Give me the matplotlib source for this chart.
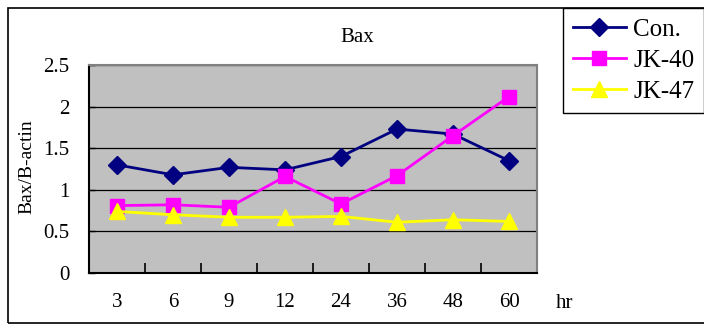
import numpy as np
import matplotlib.pyplot as plt
from matplotlib.patches import Rectangle

plt.rcParams['font.family'] = ['Liberation Serif', 'DejaVu Serif']

# time points (hr) and Bax/B-actin ratios
hours = ['3', '6', '9', '12', '24', '36', '48', '60']
con = [1.30, 1.18, 1.27, 1.24, 1.40, 1.73, 1.67, 1.35]
jk40 = [0.81, 0.82, 0.79, 1.16, 0.83, 1.17, 1.65, 2.12]
jk47 = [0.74, 0.70, 0.67, 0.67, 0.68, 0.61, 0.64, 0.62]

W, H = 704, 325
fig = plt.figure(figsize=(W / 100, H / 100), dpi=100)

# outer chart frame
fig.patches.append(Rectangle((8 / W, 2 / H), 1.0, 1 - 10 / H, transform=fig.transFigure,
                             fill=False, edgecolor='black', linewidth=1.2))

ax = fig.add_axes([89 / W, (H - 273) / H, 448 / W, 208 / H])
ax.set_facecolor('#C0C0C0')

x = np.arange(len(hours))
ax.plot(x, con, color='#000080', marker='D', markersize=9, linewidth=2, label='Con.')
ax.plot(x, jk40, color='#FF00FF', marker='s', markersize=10, linewidth=2, label='JK-40')
ax.plot(x, jk47, color='#FFFF00', marker='^', markersize=11, linewidth=2, label='JK-47')

ax.set_xlim(-0.5, len(hours) - 0.5)
ax.set_ylim(0, 2.5)
ax.set_yticks([0, 0.5, 1, 1.5, 2, 2.5])
ax.set_yticklabels(['0', '0.5', '1', '1.5', '2', '2.5'], fontsize=15)
ax.yaxis.grid(True, color='black', linewidth=0.9)
ax.set_axisbelow(True)

# category boundaries as inward ticks, labels centred under each point
ax.set_xticks(np.arange(0.5, len(hours) - 0.5))
ax.set_xticklabels([])
ax.tick_params(axis='x', direction='in', length=7, width=1.2, color='black')
ax.tick_params(axis='y', direction='in', length=4, width=1, color='black', pad=14)
for i, h in enumerate(hours):
    ax.text(i, -0.36, h, ha='center', va='center', fontsize=15,
            transform=ax.transData, clip_on=False)
fig.text(565 / W, 1 - 303 / H, 'hr', ha='center', va='center', fontsize=15)

for s in ['top', 'right']:
    ax.spines[s].set_color('#808080')
    ax.spines[s].set_linewidth(1.5)
for s in ['left', 'bottom']:
    ax.spines[s].set_color('black')
    ax.spines[s].set_linewidth(1.5)

fig.text(27 / W, 1 - 167 / H, 'Bax/B-actin', rotation=90, ha='center', va='center', fontsize=14)
fig.text(357 / W, 1 - 37 / H, 'Bax', ha='center', va='center', fontsize=15)

leg = fig.legend(loc='upper left', bbox_to_anchor=(563 / W, 1 - 8 / H), borderaxespad=0,
                 fancybox=False, edgecolor='black', fontsize=18, framealpha=1,
                 handlelength=2.1, labelspacing=0.35, borderpad=0.4, handletextpad=0.3)
leg.get_frame().set_linewidth(1.0)

fig.savefig('out.png', dpi=100)
